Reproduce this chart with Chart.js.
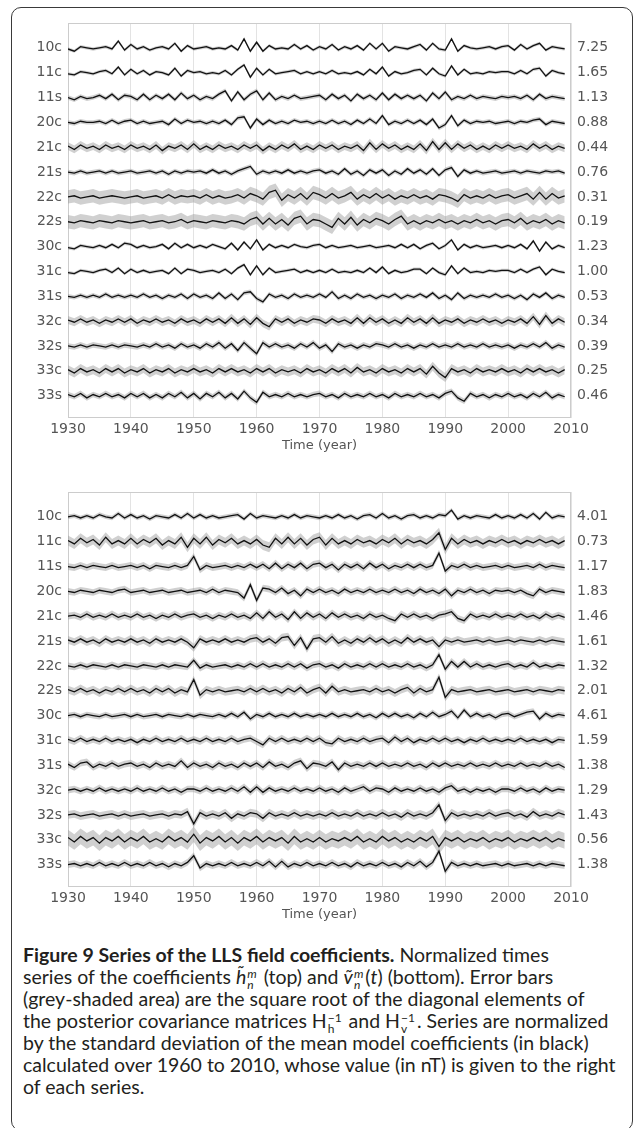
<!DOCTYPE html>
<html>
<head>
<meta charset="utf-8">
<script src="https://cdn.jsdelivr.net/npm/chart.js@4.4.0/dist/chart.umd.min.js"></script>
<style>
  body { margin: 0; width: 633px; height: 1128px; overflow: hidden; background: #fff; position: relative; }
  .frame { position: absolute; left: 11px; top: 7px; width: 622px; height: 1124px; border: 1.5px solid #3a3a3a; border-radius: 10px; box-sizing: border-box; }
  canvas { position: absolute; left: 0; }
  #caption { position: absolute; left: 23px; top: 944px; font-family: Lato, "Open Sans", sans-serif; font-size: 19.5px; color: #231f20; white-space: nowrap; }
  #caption div { height: 22px; line-height: 22px; }
  .ss { display: inline-flex; flex-direction: column; font-size: 12px; line-height: 11px; vertical-align: 6px; margin: 0 2px 0 1px; }
</style>
</head>
<body>
<div class="frame"></div>
<canvas id="topChart" width="633" height="456" style="top:0px"></canvas>
<canvas id="bottomChart" width="633" height="456" style="top:469px"></canvas>
<div id="caption">
  <div><b>Figure 9 Series of the LLS field coefficients.</b> Normalized times</div>
  <div>series of the coefficients <i>h&#771;</i><span class="ss"><i>m</i><i>n</i></span> (top) and <i>&#7805;</i><span class="ss"><i>m</i><i>n</i></span>(<i>t</i>) (bottom). Error bars</div>
  <div>(grey-shaded area) are the square root of the diagonal elements of</div>
  <div>the posterior covariance matrices H<span class="ss"><span>&minus;1</span><span>h</span></span> and H<span class="ss"><span>&minus;1</span><span>v</span></span>. Series are normalized</div>
  <div>by the standard deviation of the mean model coefficients (in black)</div>
  <div>calculated over 1960 to 2010, whose value (in nT) is given to the right</div>
  <div>of each series.</div>
</div>
<script>
// series names (left) and std of the mean model in nT (right)
const ROW_NAMES = ["10c", "11c", "11s", "20c", "21c", "21s", "22c", "22s", "30c", "31c", "31s", "32c", "32s", "33c", "33s"];
const TOP_SIGMA = ["7.25", "1.65", "1.13", "0.88", "0.44", "0.76", "0.31", "0.19", "1.23", "1.00", "0.53", "0.34", "0.39", "0.25", "0.46"];
const BOTTOM_SIGMA = ["4.01", "0.73", "1.17", "1.83", "1.46", "1.61", "1.32", "2.01", "4.61", "1.59", "1.38", "1.29", "1.43", "0.56", "1.38"];
const X_TICKS = [1930, 1940, 1950, 1960, 1970, 1980, 1990, 2000, 2010];
const START_YEAR = 1930; // one value per year, 1930..2009

// half width of the grey error band, same units as the series
const TOP_ERR = [1.5, 1.5, 2, 2, 3.5, 2, 6, 6, 1.5, 1.5, 2, 3.5, 2.5, 4, 2.5];
const BOTTOM_ERR = [2, 4.5, 3, 3, 3, 3.5, 3, 3.5, 2.5, 3, 3, 3, 3.5, 7, 3];

// top: h coefficients (normalized)
const h10c = [-1,-3,1,0,-1,0,1,-1,6,-2, 3,-1,1,-2,0,1,-1,4,-3,2, -1,0,1,-1,0,-1,2,-2,8,-3, 5,-3,2,-1,0,-1,3,-1,2,-2, 1,-1,3,-2,1,-1,2,-2,4,-1, 4,-3,1,0,-1,1,3,-2,4,-1, -2,8,-3,2,0,-1,0,1,-1,1, 2,-2,3,-1,2,4,-2,1,0,-1];
const h11c = [-1,-2,1,0,-1,1,2,-1,5,-2, 3,-1,2,-2,1,0,-2,4,-3,2, 0,1,-1,0,-1,2,-2,3,7,-4, 4,-2,3,-1,0,1,2,-1,1,-1, 1,-1,2,-1,0,-1,1,-2,3,-1, 5,-3,1,-1,0,2,3,-2,4,-1, -3,6,-2,3,-1,0,-1,1,0,1, 1,-1,2,-1,3,4,-3,2,0,-1];
const h11s = [0,-2,1,-1,0,2,-1,3,-2,2, 1,-2,3,-2,2,-1,3,-2,4,-1, 2,-2,1,-1,3,6,-3,5,-2,3, 6,-2,4,-2,1,-1,2,-1,0,1, 2,-2,3,-1,2,-3,3,-1,2,-2, 4,-2,3,-1,2,-1,2,-3,4,-1, 5,-2,1,-1,2,-1,1,0,-1,1, 0,1,-1,2,-2,3,-1,1,0,-1];
const h20c = [0,-1,1,0,0,1,-1,2,-1,1, 2,-1,1,-1,0,1,-2,3,-1,2, 0,1,-1,1,-1,2,-2,4,5,-5, 3,-2,2,-1,1,-1,2,0,1,-1, 1,-1,2,-1,1,-2,2,-1,3,-1, 6,-2,1,-1,2,-1,2,-2,3,-5, -2,6,-3,2,-1,1,0,1,-1,0, 1,-1,1,0,2,3,-2,1,0,-1];
const h21c = [1,-2,2,-1,1,-2,2,-1,1,-2, 2,-1,1,-2,2,-3,1,-1,2,-2, 3,-2,1,-2,2,-1,1,-2,2,-1, 2,-3,1,-2,2,-1,3,-2,1,-2, 2,-1,2,-2,1,-1,2,-3,4,-2, 3,-1,2,-2,1,-2,3,-3,5,-2, 4,-2,3,-1,2,-2,1,-2,2,-1, 2,-1,1,-2,3,-1,2,-2,1,-1];
const h21s = [0,-1,1,-1,0,1,-1,1,-1,0, 1,-1,0,1,-1,1,-2,1,-1,1, 0,1,-1,2,-1,1,-2,1,3,5, -2,1,-1,1,-1,2,-1,1,-1,1, 2,-1,1,-2,3,-2,1,-3,2,-1, 2,-3,1,-2,3,-1,2,-2,3,-3, 2,4,-4,2,-1,1,-1,0,1,-1, 0,1,-1,1,0,-1,1,0,1,-1];
const h22c = [0,1,-1,0,1,-1,0,1,0,-1, 0,1,-1,0,1,-1,2,-1,1,0, 1,-1,2,-1,1,-1,0,2,-1,3, 1,-2,4,6,-3,2,-1,3,-2,4, 2,-1,3,-1,1,4,-2,2,-1,3, -1,2,-2,1,-1,2,-1,1,-2,2, 1,-1,-4,2,-1,1,-1,2,-1,1, 2,-1,1,3,-2,4,-2,3,-1,1];
const h22s = [0,-1,1,0,-1,1,0,-1,1,0, -1,0,1,-1,0,1,-1,0,2,-1, 1,0,-1,1,0,-1,1,0,-2,2, 4,-2,3,-2,2,-3,3,5,-2,2, 1,-2,-5,3,-2,4,-3,2,-1,3, 1,-2,2,5,-2,1,-2,1,-1,2, -1,1,-2,1,-1,2,-1,1,-2,1, 2,-1,3,-2,1,-1,2,-2,1,-1];
const h30c = [-1,-2,1,0,-1,1,-1,2,-1,3, 2,-1,1,-1,0,2,-2,3,-1,2, -1,1,-1,2,0,-2,3,-3,4,-2, 6,-3,2,-1,1,-1,2,0,-1,1, 2,-1,1,-1,0,1,-1,0,1,-1, 0,1,-1,2,-1,2,-2,1,3,-2, 1,6,-3,2,-1,1,-1,0,1,-1, 1,-1,2,-2,5,-4,4,-2,1,-1];
const h31c = [-1,-2,1,0,-1,1,2,-1,3,-2, 2,-1,1,-1,0,1,-2,3,-2,2, 1,-1,0,1,-1,2,-2,3,6,-3, 5,-3,3,-1,0,1,2,-1,1,-1, 1,-1,2,-1,0,-1,1,-1,3,-1, 4,-2,1,-1,0,2,2,-2,3,-1, -3,5,-2,3,-1,0,-1,1,0,1, 1,-1,2,-1,2,4,-3,2,0,-1];
const h31s = [0,-1,1,-1,1,-1,2,-1,1,-1, 1,-1,2,-1,1,-2,1,-1,2,-2, 2,-1,1,-2,3,-2,2,-3,3,4, -2,-5,2,-1,1,-2,2,-1,1,-1, 2,-1,4,-2,1,-2,2,-1,1,-2, 1,-1,2,-2,1,-1,2,-1,3,-2, 1,-3,3,-2,1,-1,1,-1,2,-1, 1,-2,1,-3,2,-1,3,-2,1,-1];
const h32c = [1,-1,2,-1,1,-2,1,-1,2,-1, 2,-2,1,-1,2,-1,1,-2,2,-1, 1,-2,2,-1,2,-2,3,-2,2,-3, 3,-2,-5,2,-1,2,-2,1,-1,2, 1,-2,2,-1,1,-2,3,-2,3,-1, 2,-2,1,-2,3,-1,2,-2,3,-2, 1,-1,2,-2,1,-1,2,-1,1,-2, 1,-1,2,-2,4,-3,5,-2,2,-1];
const h32s = [0,-1,1,-1,1,0,-1,1,-1,1, 0,-1,1,-1,2,-1,1,-2,2,-1, 1,-2,2,-1,3,-2,2,-4,3,-2, -7,3,-1,2,-1,1,-2,2,-1,3, -2,1,-5,2,-1,1,-2,1,-1,2, 1,-1,2,-1,1,-2,1,-1,2,-1, 1,-1,2,-1,1,-1,2,-1,1,-1, 1,-2,1,-1,2,-1,3,-2,1,-1];
const h33c = [1,-2,2,-1,1,-2,2,-1,2,-2, 1,-1,2,-2,1,-1,2,-2,1,-1, 2,-1,1,-2,2,-1,2,-1,1,-2, 2,-1,2,-2,1,-1,1,-2,2,-1, 1,-2,2,-1,2,-2,3,-1,1,-2, 2,-1,1,-2,2,-1,2,-3,4,-2, -6,2,-1,1,-2,2,-1,1,-1,2, -1,1,-2,2,-1,2,-1,1,-2,1];
const h33s = [1,-1,2,-2,1,-1,2,-1,1,-2, 2,-1,2,-2,1,-2,2,-1,3,-2, 2,-3,2,-1,3,-2,2,-3,4,-2, -6,3,-1,1,-1,2,-1,1,-1,1, 2,-1,1,-2,2,-1,1,-1,2,-1, 1,-2,2,-1,1,-1,2,-1,1,-2, 2,4,-2,-5,2,-1,1,-2,1,-1, 2,-1,1,-2,2,-1,3,-2,1,-1];

// bottom: v coefficients (normalized)
const v10c = [0,1,-1,1,-1,2,0,-1,3,-1, 2,-1,1,-2,1,0,-1,2,-1,3, -1,2,-1,1,-1,0,1,2,-2,3, -1,1,0,-1,1,-1,2,-1,1,0, -1,1,-1,2,-1,1,-2,1,2,-1, 3,-1,1,-2,1,2,-1,1,-1,2, 1,6,-2,1,-1,1,0,-1,2,-1, 1,-1,2,-1,3,-2,4,-1,1,0];
const v11c = [1,-2,3,-1,2,-3,4,-2,1,-2, 3,-2,2,-1,3,-3,1,-2,4,-5, 3,-2,4,-3,2,-1,3,-2,1,-2, 2,-3,-5,3,-2,4,-2,3,-3,2, 4,-3,3,-2,1,-2,2,-1,1,-2, 2,-1,3,-2,2,-1,1,-2,2,8, -7,3,-2,2,-1,1,-2,1,-1,2, -1,1,-2,1,-1,2,-1,1,-2,1];
const v11s = [0,-1,1,-1,1,0,-1,1,-1,0, 1,-1,1,-2,1,0,-1,1,-1,1, 9,-3,1,-1,0,1,-1,1,-1,2, -1,2,-2,3,-2,2,-1,3,-2,2, 3,-1,2,-3,2,-1,2,-2,3,-1, 2,-2,1,-1,2,-1,2,-1,1,12, -4,1,-1,2,-1,1,-1,0,1,-1, 1,-1,0,1,-1,2,-1,1,0,-1];
const v20c = [0,-1,1,0,-1,1,0,-1,1,2, -1,0,1,-1,0,1,-1,0,1,-1, 0,1,-1,2,-1,1,0,-1,-6,6, -8,3,2,-1,3,-2,1,-4,2,-1, 2,-1,1,-2,2,-1,1,-1,2,-1, 1,-1,2,-1,1,-2,2,-1,1,-2, 2,-4,1,-1,2,-1,1,-2,1,0, 1,-1,1,-2,-4,2,-1,1,0,-1];
const v21c = [0,1,-1,2,-1,1,-1,2,-1,1, -1,2,-1,1,-2,1,-1,2,-1,1, 2,-1,1,-2,1,-1,2,-1,1,-2, 3,-2,4,-1,2,-3,4,-2,3,-1, 2,-2,3,-1,2,-1,1,-2,2,-1, 1,-2,-4,2,-1,2,-1,1,-2,1, 2,4,-2,-4,2,-1,1,-1,2,-1, 1,-1,2,-1,1,-2,2,-1,1,-1];
const v21s = [1,-1,2,-1,1,-2,2,-1,1,-1, 2,-1,1,-2,2,-1,1,-1,2,-1, -6,2,-1,1,-1,2,-1,1,-1,2, 3,-1,2,-2,3,4,-4,3,-7,2, 3,-1,4,-2,1,-2,2,-1,3,-1, 2,-2,1,-2,3,-1,2,-1,1,-5, 1,-1,1,-1,0,1,-1,1,-1,0, 1,-1,1,0,-1,1,-1,1,0,-1];
const v22c = [0,-1,1,-1,1,0,-1,1,-1,1, 0,-1,1,0,-1,1,-1,1,0,-1, 5,-2,1,-1,0,1,-1,1,-1,2, -1,2,-1,1,-1,2,-1,2,-2,1, 2,-1,1,-2,2,-1,1,-1,2,-1, 2,-1,1,-1,2,-1,1,-2,1,10, -3,4,-1,4,-1,2,-1,1,-1,1, 2,-1,1,-1,3,-1,1,-1,1,0];
const v22s = [1,-1,2,-1,1,-2,1,-1,2,-1, 2,-1,1,-2,2,-1,2,-2,1,-1, 10,-4,1,-1,1,-1,0,1,-1,2, -1,2,-1,1,-2,2,-1,3,-2,1, 3,-2,4,-1,1,-1,0,1,-1,2, -1,1,-2,1,3,-2,2,-1,1,12, -6,1,-1,0,1,-1,0,1,-1,0, 1,-1,0,1,-1,1,0,-1,1,0];
const v30c = [0,1,-1,1,0,-1,1,-1,0,1, -1,1,-1,0,1,-1,1,0,-1,1, -1,1,0,-1,1,-1,2,-1,3,-3, 1,-1,2,-1,1,-1,2,-1,1,-1, 1,-1,2,-1,1,-1,2,-1,1,-2, 2,-1,2,-1,1,-2,2,-1,3,-1, 1,4,-2,5,-1,2,-1,1,-2,1, 2,-1,1,3,4,-3,2,-1,1,0];
const v31c = [1,-1,2,-1,1,-1,2,-1,1,-1, 1,-2,1,-1,2,-1,1,-1,2,-1, 1,-1,2,-1,1,-1,2,-1,1,2, -1,-4,2,-1,2,-1,1,-1,2,-1, 2,-2,-3,2,-1,1,-1,2,-1,1, 2,-2,3,-1,2,-2,1,-1,2,-1, 2,-1,1,-2,1,-1,2,-1,1,-1, 1,-1,2,-1,1,-1,1,-2,1,0];
const v31s = [1,-2,2,3,-2,1,-1,2,-1,1, 2,-1,1,-2,2,-1,1,-1,4,-2, 2,-1,1,-2,2,-1,1,-2,2,-1, 2,-2,3,-1,1,-2,2,4,-3,2, 1,-1,3,-4,2,-1,1,-1,2,-1, 2,-1,1,-1,2,-1,1,-2,2,-1, 2,-1,1,-1,2,-1,1,-1,2,-1, 1,-1,2,-1,1,-1,2,-1,1,-2];
const v32c = [0,1,-1,1,-1,2,-1,1,-1,1, -1,2,-1,1,-1,2,-1,1,-2,1, 1,-1,2,-1,1,-1,2,-1,3,-2, 3,-2,2,-1,1,-1,2,-1,1,-1, 2,-1,1,-2,2,-1,1,3,-1,2, 1,-2,2,-1,1,-1,2,-1,1,-2, 2,4,-1,1,-2,1,-1,1,-2,1, 1,-1,2,-1,1,-2,2,-1,1,0];
const v32s = [0,1,-1,0,1,-1,0,1,-1,1, -1,0,1,-1,0,1,-1,1,0,3, -8,2,-1,1,-1,2,-3,1,-1,2, 1,-3,2,-1,1,-1,2,-1,1,-1, 1,-1,2,-1,1,-1,2,-1,1,-1, 2,-1,1,-2,2,-1,1,-1,2,9, -5,2,-1,1,-1,1,-1,2,-1,1, 2,-1,1,-2,3,-1,1,-1,2,0];
const v33c = [2,-2,3,-1,2,-3,2,-1,3,-2, 2,-1,3,-2,1,-2,3,-1,2,-2, 5,-3,2,-1,3,-2,2,-3,2,-1, 3,-2,2,-1,2,-3,3,-2,1,-2, 2,-2,1,-1,2,-1,3,-2,1,-2, 3,-1,2,-2,1,-2,2,-1,3,-6, 2,-1,2,-2,1,-1,2,-2,1,-1, 2,-2,1,-1,2,-1,2,-2,1,-1];
const v33s = [0,1,-1,1,-1,2,-1,1,-1,2, -1,1,-1,2,-1,1,-2,1,-1,2, 8,-3,1,-1,1,-1,2,-1,1,-1, 2,-1,3,-2,3,-2,1,-1,2,-1, 1,-1,2,-1,1,-2,2,-1,1,-1, 2,-1,1,-2,2,-1,3,-2,2,12, -6,2,-1,1,-1,1,-1,0,1,-1, 1,-1,0,1,-1,1,-1,1,0,-1];

const TOP_SERIES = [h10c, h11c, h11s, h20c, h21c, h21s, h22c, h22s, h30c, h31c, h31s, h32c, h32s, h33c, h33s];
const BOTTOM_SERIES = [v10c, v11c, v11s, v20c, v21c, v21s, v22c, v22s, v30c, v31c, v31s, v32c, v32s, v33c, v33s];

const GAIN = 0.045; // series units -> row spacing units
const TICK_FONT = { family: "DejaVu Sans", size: 14 };
const TICK_COLOR = "#555";

// light grey box around the plot area
const plotFrame = {
  id: "plotFrame",
  beforeDatasetsDraw(chart) {
    const { ctx, chartArea: a } = chart;
    ctx.save();
    ctx.strokeStyle = "#cccccc";
    ctx.lineWidth = 1;
    ctx.strokeRect(a.left + 0.5, a.top + 0.5, a.right - a.left - 1, a.bottom - a.top - 1);
    ctx.restore();
  },
};

const buildDatasets = (series, errs) => {
  const bands = [];
  const lines = [];
  series.forEach((vals, i) => {
    const toPoints = (shift) => vals.map((v, k) => ({ x: START_YEAR + k, y: -i + (v + shift) * GAIN }));
    bands.push({ data: toPoints(errs[i]), borderWidth: 0, pointRadius: 0, fill: "+1", backgroundColor: "rgba(150,150,150,0.45)", order: 2 });
    bands.push({ data: toPoints(-errs[i]), borderWidth: 0, pointRadius: 0, fill: false, order: 2 });
    lines.push({ data: toPoints(0), borderColor: "#111", borderWidth: 1.3, pointRadius: 0, fill: false, order: 1 });
  });
  return bands.concat(lines);
};

const rowAxis = (position, labels, width) => ({
  type: "linear",
  position: position,
  min: -14.9,
  max: 1.0,
  afterBuildTicks: (axis) => {
    axis.ticks = labels.map((_, i) => ({ value: -i }));
  },
  afterFit: (axis) => {
    axis.width = width;
  },
  ticks: { autoSkip: false, padding: 6, font: TICK_FONT, color: TICK_COLOR, callback: (v) => labels[Math.round(-v)] },
  grid: { display: false, drawTicks: false },
  border: { display: false },
});

const drawPanel = (canvasId, series, errs, sigmas) => {
  new Chart(document.getElementById(canvasId), {
    type: "line",
    data: { datasets: buildDatasets(series, errs) },
    options: {
      responsive: false,
      animation: false,
      devicePixelRatio: 1,
      layout: { padding: { top: 23, left: 0, right: 0, bottom: 0 } },
      plugins: { legend: { display: false }, tooltip: { enabled: false } },
      scales: {
        x: {
          type: "linear",
          min: 1930,
          max: 2010,
          afterBuildTicks: (axis) => {
            axis.ticks = X_TICKS.map((v) => ({ value: v }));
          },
          afterFit: (axis) => {
            axis.height = 38;
          },
          ticks: { autoSkip: false, maxRotation: 0, padding: 3, font: TICK_FONT, color: TICK_COLOR, callback: (v) => String(v) },
          grid: { color: "#e3e3e3", drawTicks: false },
          border: { display: false },
          title: { display: true, text: "Time (year)", font: { family: "DejaVu Sans", size: 13 }, color: TICK_COLOR, padding: { top: 0, bottom: 3 } },
        },
        y: rowAxis("left", ROW_NAMES, 68),
        y2: rowAxis("right", sigmas, 62),
      },
    },
    plugins: [plotFrame],
  });
};

drawPanel("topChart", TOP_SERIES, TOP_ERR, TOP_SIGMA);
drawPanel("bottomChart", BOTTOM_SERIES, BOTTOM_ERR, BOTTOM_SIGMA);
</script>
</body>
</html>
